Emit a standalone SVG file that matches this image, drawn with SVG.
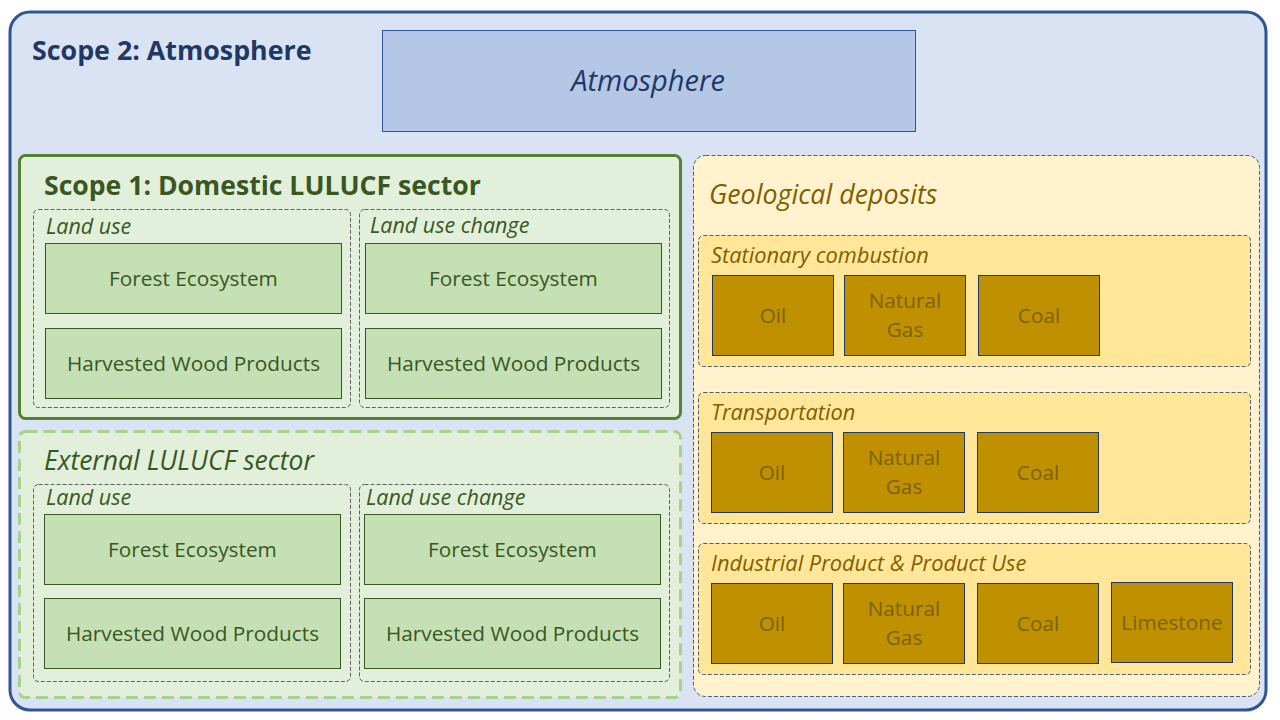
<svg xmlns="http://www.w3.org/2000/svg" width="1280" height="720" viewBox="0 0 1280 720">
<style>
text{font-family:"Open Sans","Noto Sans","Liberation Sans",sans-serif;}
.h{font-weight:bold;font-size:26.6px;}
.g{fill:#385723;}
.b{fill:#1F3864;}
.y{fill:#7F6000;}
.it{font-style:italic;}
.lbl{font-size:21.5px;font-style:italic;}
.box{fill:#C5E0B4;stroke:#385723;stroke-width:1;}
.bt{font-size:20.8px;text-anchor:middle;dominant-baseline:central;}
.dg{fill:#E2EFDA;stroke:#3B3B3B;stroke-width:0.8;stroke-dasharray:4 2;}
.dy{fill:#FFE699;stroke:#1F3864;stroke-width:0.8;stroke-dasharray:4 2;}
.ore{fill:#BF9000;stroke:#1F3864;stroke-width:1;}
.ot{font-size:20.8px;text-anchor:middle;fill:#7F6000;}
</style>
<g id="scope2">
<rect x="10" y="12" width="1256" height="698" rx="20" fill="#DAE3F3" stroke="#2F5597" stroke-width="3"/>
<text x="32" y="60" class="h b" style="font-size:26.8px">Scope 2: Atmosphere</text>
</g>
<g id="atmosphere">
<rect x="382.5" y="30.5" width="533" height="101" fill="#B4C7E7" stroke="#2F5597" stroke-width="1"/>
<text x="648" y="91" class="b it" font-size="29" text-anchor="middle">Atmosphere</text>
</g>
<g id="domestic">
<rect x="19.5" y="155.5" width="661" height="263" rx="6" fill="#E2EFDA" stroke="#548235" stroke-width="3"/>
<text x="44" y="195" class="h g">Scope 1: Domestic LULUCF sector</text>
<rect x="33.5" y="209.5" width="317" height="198" rx="5" class="dg"/>
<text x="46" y="234" class="lbl g">Land use</text>
<rect x="45.5" y="243.5" width="296" height="70" class="box"/>
<text x="193.5" y="278" class="bt g">Forest Ecosystem</text>
<rect x="45.5" y="328.5" width="296" height="70" class="box"/>
<text x="193.5" y="363" class="bt g">Harvested Wood Products</text>
<rect x="359.5" y="209.5" width="310" height="198" rx="5" class="dg"/>
<text x="370" y="233" class="lbl g">Land use change</text>
<rect x="365.5" y="243.5" width="296" height="70" class="box"/>
<text x="513.5" y="278" class="bt g">Forest Ecosystem</text>
<rect x="365.5" y="328.5" width="296" height="70" class="box"/>
<text x="513.5" y="363" class="bt g">Harvested Wood Products</text>
</g>
<g id="external">
<rect x="19.5" y="431.5" width="661" height="266" rx="6" fill="#E2EFDA" stroke="#A9D18E" stroke-width="3" stroke-dasharray="12 6"/>
<text x="44" y="470" class="g it" font-size="26.5">External LULUCF sector</text>
<rect x="33.5" y="484.5" width="317" height="197" rx="5" class="dg"/>
<text x="46" y="505" class="lbl g">Land use</text>
<rect x="44.5" y="514.5" width="296" height="70" class="box"/>
<text x="192.5" y="549" class="bt g">Forest Ecosystem</text>
<rect x="44.5" y="598.5" width="296" height="70" class="box"/>
<text x="192.5" y="633" class="bt g">Harvested Wood Products</text>
<rect x="359.5" y="484.5" width="310" height="197" rx="5" class="dg"/>
<text x="366" y="505" class="lbl g">Land use change</text>
<rect x="364.5" y="514.5" width="296" height="70" class="box"/>
<text x="512.5" y="549" class="bt g">Forest Ecosystem</text>
<rect x="364.5" y="598.5" width="296" height="70" class="box"/>
<text x="512.5" y="633" class="bt g">Harvested Wood Products</text>
</g>
<g id="geological">
<rect x="693.5" y="155.5" width="566" height="541" rx="12" fill="#FFF2CC" stroke="#1F3864" stroke-width="0.8" stroke-dasharray="4 2"/>
<text x="709" y="204" class="y it" font-size="26.8">Geological deposits</text>
</g>
<g id="stationary">
<rect x="698.5" y="235.5" width="552" height="131" rx="5" class="dy"/>
<text x="711" y="263" class="lbl y" style="font-size:21.8px">Stationary combustion</text>
<rect x="712.5" y="275.5" width="121" height="80" class="ore"/>
<text x="773" y="323" class="ot">Oil</text>
<rect x="844.5" y="275.5" width="121" height="80" class="ore"/>
<text x="905" y="308" class="ot">Natural</text>
<text x="905" y="337" class="ot">Gas</text>
<rect x="978.5" y="275.5" width="121" height="80" class="ore"/>
<text x="1039" y="323" class="ot">Coal</text>
</g>
<g id="transportation">
<rect x="698.5" y="392.5" width="552" height="131" rx="5" class="dy"/>
<text x="711" y="420" class="lbl y" style="font-size:21.8px">Transportation</text>
<rect x="711.5" y="432.5" width="121" height="80" class="ore"/>
<text x="772" y="480" class="ot">Oil</text>
<rect x="843.5" y="432.5" width="121" height="80" class="ore"/>
<text x="904" y="465" class="ot">Natural</text>
<text x="904" y="494" class="ot">Gas</text>
<rect x="977.5" y="432.5" width="121" height="80" class="ore"/>
<text x="1038" y="480" class="ot">Coal</text>
</g>
<g id="industrial">
<rect x="698.5" y="543.5" width="552" height="131" rx="5" class="dy"/>
<text x="711" y="571" class="lbl y" style="font-size:21.8px">Industrial Product &amp; Product Use</text>
<rect x="711.5" y="583.5" width="121" height="80" class="ore"/>
<text x="772" y="631" class="ot">Oil</text>
<rect x="843.5" y="583.5" width="121" height="80" class="ore"/>
<text x="904" y="616" class="ot">Natural</text>
<text x="904" y="645" class="ot">Gas</text>
<rect x="977.5" y="583.5" width="121" height="80" class="ore"/>
<text x="1038" y="631" class="ot">Coal</text>
<rect x="1111.5" y="582.5" width="121" height="80" class="ore"/>
<text x="1172" y="630" class="ot">Limestone</text>
</g>
<g id="connectors"></g>
</svg>
